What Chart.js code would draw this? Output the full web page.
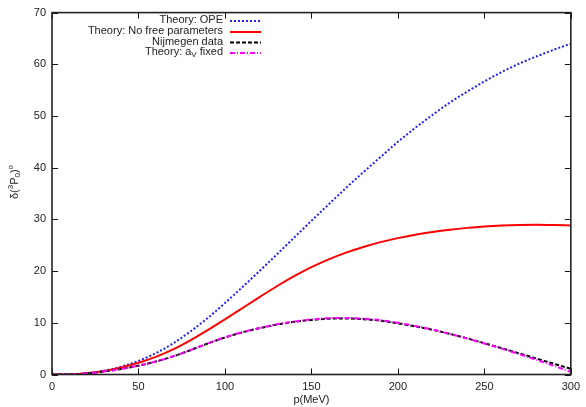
<!DOCTYPE html>
<html>
<head>
<meta charset="utf-8">
<script src="https://cdn.jsdelivr.net/npm/chart.js@4/dist/chart.umd.min.js"></script>
<style>
  html, body { margin: 0; padding: 0; background: #fff; }
  #wrap { width: 586px; height: 407px; }
</style>
</head>
<body>
<div id="wrap"><canvas id="phaseChart" width="586" height="407"></canvas></div>
<script>
// momentum grid (MeV)
var momenta = [0, 10, 20, 30, 40, 50, 60, 70, 80, 90, 100, 110, 120, 130, 140, 150,
               160, 170, 180, 190, 200, 210, 220, 230, 240, 250, 260, 270, 280, 290, 300];

// phase shifts in degrees
var opeValues = [0, 0.02, 0.22, 0.72, 1.52, 2.62, 4.12, 6.02, 8.32, 10.92, 13.82, 16.87, 20.02, 23.22, 26.47, 29.72,
                 32.92, 36.07, 39.12, 42.07, 45.0, 47.7, 50.2, 52.6, 54.7, 56.7, 58.5, 60.1, 61.5, 62.8, 64.0];
var noFreeValues = [0, 0.02, 0.22, 0.67, 1.37, 2.27, 3.42, 4.87, 6.62, 8.57, 10.67, 12.82, 14.97, 17.07, 19.02, 20.77,
                    22.27, 23.57, 24.67, 25.6, 26.38, 27.03, 27.57, 28.01, 28.36, 28.63, 28.82, 28.93, 28.96, 28.91, 28.81];
var nijmegenValues = [0, 0.02, 0.2, 0.58, 1.08, 1.7, 2.5, 3.5, 4.7, 6.0, 7.15, 8.15, 8.95, 9.65, 10.2, 10.55,
                      10.8, 10.85, 10.7, 10.4, 9.9, 9.3, 8.65, 7.85, 7.0, 6.05, 5.1, 4.1, 3.1, 2.1, 1.1];
var aVFixedValues = [0, 0.02, 0.2, 0.58, 1.08, 1.7, 2.5, 3.5, 4.7, 6.0, 7.2, 8.2, 9.0, 9.7, 10.25, 10.65,
                     10.9, 10.95, 10.8, 10.5, 10.0, 9.4, 8.7, 7.85, 6.95, 6.0, 5.0, 3.95, 2.85, 1.7, 0.5];

var xTicks = [0, 50, 100, 150, 200, 250, 300];
var yTicks = [0, 10, 20, 30, 40, 50, 60, 70];

var FONT = '"Liberation Sans", Arial, sans-serif';

function toPoints(values) {
    return momenta.map(function (p, i) { return { x: p, y: values[i] }; });
}

// legend entries, gnuplot style: text right aligned, line sample on the right
var legendItems = [
    { parts: [['Theory: OPE', 0]], color: '#2020ff', dash: [2, 2] },
    { parts: [['Theory: No free parameters', 0]], color: '#ff0000', dash: [] },
    { parts: [['Nijmegen data', 0]], color: '#000000', dash: [4, 2] },
    { parts: [['Theory: a', 0], ['V', 1], [' fixed', 0]], color: '#ff00ff', dash: [5, 2, 1, 2] }
];

// draws a run of text pieces; kind 0 = normal, 1 = subscript, 2 = superscript
function drawParts(ctx, parts, x, y) {
    parts.forEach(function (part) {
        var small = part[1] !== 0;
        ctx.font = (small ? '8px ' : '11px ') + FONT;
        var dy = part[1] === 1 ? 3 : (part[1] === 2 ? -4 : 0);
        ctx.fillText(part[0], x, y + dy);
        x += ctx.measureText(part[0]).width;
    });
}

function partsWidth(ctx, parts) {
    var w = 0;
    parts.forEach(function (part) {
        ctx.font = (part[1] !== 0 ? '8px ' : '11px ') + FONT;
        w += ctx.measureText(part[0]).width;
    });
    return w;
}

var framePlugin = {
    id: 'frame',
    afterDraw: function (chart) {
        var ctx = chart.ctx;
        var a = chart.chartArea;
        var xs = chart.scales.x, ys = chart.scales.y;
        ctx.save();

        // inward ticks on all four sides
        ctx.strokeStyle = '#111';
        ctx.lineWidth = 1;
        ctx.setLineDash([]);
        ctx.beginPath();
        xTicks.forEach(function (v) {
            var px = Math.round(xs.getPixelForValue(v)) + 0.5;
            ctx.moveTo(px, a.bottom); ctx.lineTo(px, a.bottom - 6);
            ctx.moveTo(px, a.top); ctx.lineTo(px, a.top + 6);
        });
        yTicks.forEach(function (v) {
            var py = Math.round(ys.getPixelForValue(v)) + 0.5;
            ctx.moveTo(a.left, py); ctx.lineTo(a.left + 6, py);
            ctx.moveTo(a.right, py); ctx.lineTo(a.right - 6, py);
        });
        ctx.stroke();

        // border
        ctx.lineWidth = 1.6;
        ctx.strokeStyle = '#222';
        ctx.strokeRect(a.left, a.top, a.right - a.left, a.bottom - a.top);

        // y axis title, rotated
        ctx.fillStyle = '#222';
        ctx.textBaseline = 'middle';
        ctx.textAlign = 'left';
        var yTitle = [['δ(', 0], ['3', 2], ['P', 0], ['0', 1], [')', 0], ['o', 2]];
        var tw = partsWidth(ctx, yTitle);
        ctx.translate(15, 182);
        ctx.rotate(-Math.PI / 2);
        drawParts(ctx, yTitle, -tw / 2, 0);
        ctx.setTransform(1, 0, 0, 1, 0, 0);

        // legend
        var rowY = [20, 31, 41.5, 52];
        legendItems.forEach(function (item, i) {
            var w = partsWidth(ctx, item.parts);
            ctx.fillStyle = '#222';
            drawParts(ctx, item.parts, 223 - w, rowY[i]);
            ctx.strokeStyle = item.color;
            ctx.lineWidth = 2;
            ctx.setLineDash(item.dash);
            ctx.beginPath();
            ctx.moveTo(230, rowY[i] + 1);
            ctx.lineTo(261, rowY[i] + 1);
            ctx.stroke();
        });
        ctx.restore();
    }
};

function createPhaseChart() {
    var ctx = document.getElementById('phaseChart').getContext('2d');

    var data = {
        datasets: [
            { label: 'Theory: OPE', data: toPoints(opeValues), borderColor: '#2020ff',
              borderDash: [2, 2], order: 3 },
            { label: 'Theory: No free parameters', data: toPoints(noFreeValues), borderColor: '#ff0000',
              order: 2 },
            { label: 'Nijmegen data', data: toPoints(nijmegenValues), borderColor: '#000000',
              borderDash: [4, 2], order: 1 },
            { label: 'Theory: aV fixed', data: toPoints(aVFixedValues), borderColor: '#ff00ff',
              borderDash: [5, 2, 1, 2], order: 0 }
        ]
    };

    var config = {
        type: 'line',
        data: data,
        options: {
            responsive: false,
            animation: false,
            layout: { padding: { top: 11, right: 11, left: 0, bottom: 0 } },
            elements: {
                point: { radius: 0 },
                line: { borderWidth: 2, cubicInterpolationMode: 'monotone', fill: false }
            },
            plugins: {
                legend: { display: false },
                tooltip: { enabled: false }
            },
            scales: {
                x: {
                    type: 'linear',
                    min: 0, max: 300,
                    grid: { display: false, drawTicks: false },
                    border: { display: false },
                    afterBuildTicks: function (scale) {
                        scale.ticks = xTicks.map(function (v) { return { value: v }; });
                    },
                    afterFit: function (scale) { scale.height = 32.5; },
                    ticks: { padding: 6, color: '#222', maxRotation: 0, font: { family: FONT, size: 11 } },
                    title: { display: true, text: 'p(MeV)', color: '#222', padding: { top: 0, bottom: 0 },
                             font: { family: FONT, size: 11 } }
                },
                y: {
                    min: 0, max: 70,
                    grid: { display: false, drawTicks: false },
                    border: { display: false },
                    afterBuildTicks: function (scale) {
                        scale.ticks = yTicks.map(function (v) { return { value: v }; });
                    },
                    afterFit: function (scale) { scale.width = 52; },
                    ticks: { padding: 6, color: '#222', font: { family: FONT, size: 11 } }
                }
            }
        },
        plugins: [framePlugin]
    };

    new Chart(ctx, config);
}

document.addEventListener('DOMContentLoaded', createPhaseChart);
</script>
</body>
</html>
